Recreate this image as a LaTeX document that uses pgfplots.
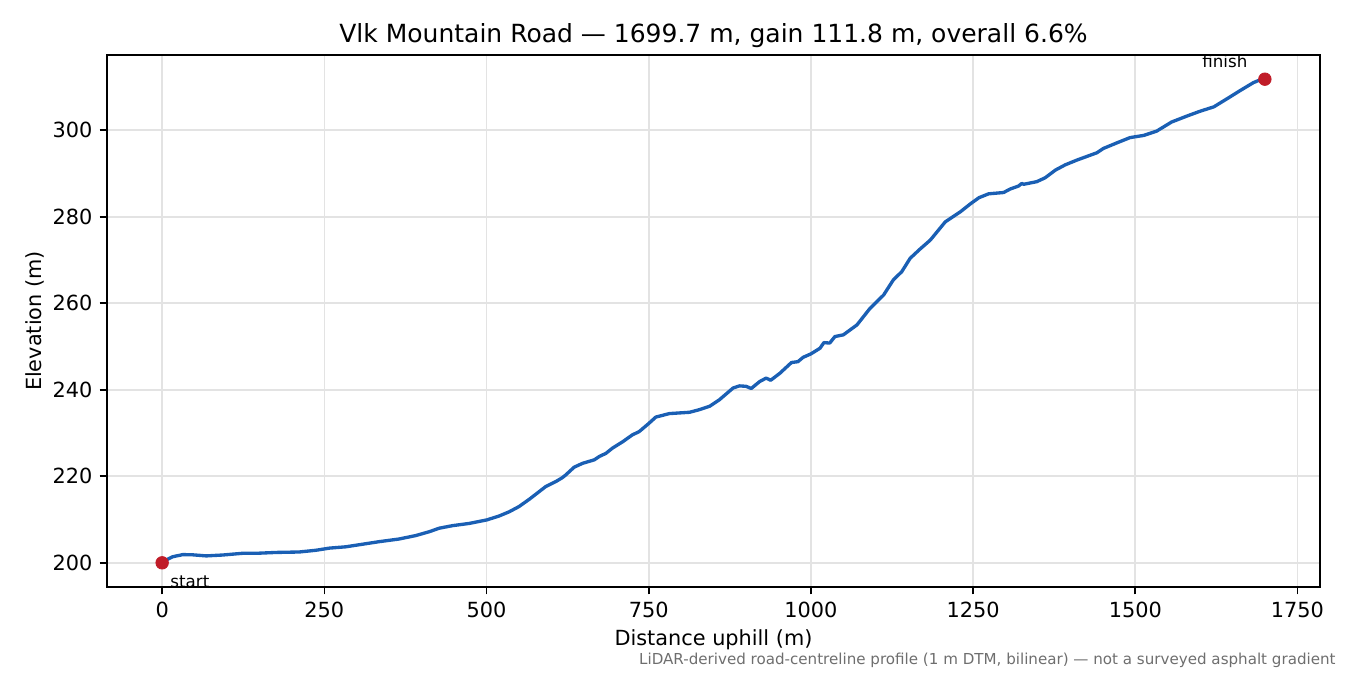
\documentclass[border=0pt]{standalone}
\usepackage{fontspec}
\setmainfont{DejaVu Sans}
\usepackage{pgfplots}
\pgfplotsset{compat=1.18}
\definecolor{lineblue}{HTML}{1A5FB4}
\definecolor{dotred}{HTML}{C01C28}
\definecolor{gridgray}{HTML}{E3E3E3}
\definecolor{notegray}{HTML}{6E6E6E}

\begin{document}
\begin{tikzpicture}
\begin{axis}[
    at={(0,0)}, anchor=south west,
    scale only axis, width=582.24pt, height=255.36pt,
    xmin=-85, xmax=1784.7, ymin=194.41, ymax=317.39,
    xtick={0,250,...,1750}, ytick={200,220,...,300},
    tick pos=left, tick align=outside, major tick length=3.5pt,
    every tick/.style={black, line width=0.8pt},
    axis line style={line width=0.8pt},
    grid=major, major grid style={gridgray, line width=0.8pt},
    /pgf/number format/1000 sep={},
    /pgf/number format/assume math mode=true,
    tick label style={font=\fontsize{10}{12}\selectfont},
    title={Vlk Mountain Road — 1699.7 m, gain 111.8 m, overall 6.6\%},
    title style={at={(axis description cs:0.5,1)}, anchor=center, yshift=3.3pt, font=\fontsize{12}{14}\selectfont},
    xlabel={Distance uphill (m)},
    xlabel style={at={(axis description cs:0.5,0)}, anchor=center, yshift=-25.4pt, font=\fontsize{10}{12}\selectfont},
    ylabel={Elevation (m)},
    ylabel style={at={(axis description cs:0,0.5)}, anchor=center, rotate=0, yshift=34.6pt, font=\fontsize{10}{12}\selectfont},
    clip=false,
]
\addplot[lineblue, line width=1.6pt, line join=round] coordinates {
(0,200) (8,200.8) (16,201.4) (32,201.9) (47,201.85) (68,201.6) (93,201.8)
(124,202.2) (145,202.2) (176,202.4) (211,202.5) (237,202.9) (258,203.4)
(283,203.7) (309,204.3) (335,204.9) (365,205.5) (391,206.3) (412,207.2)
(427,208) (448,208.6) (473,209.1) (500,209.9) (519,210.8) (535,211.8)
(550,213) (566,214.7) (591,217.6) (607,218.8) (617,219.7) (622,220.3)
(635,222.1) (648,223) (666,223.8) (674,224.6) (684,225.3) (694,226.5)
(710,228) (725,229.6) (735,230.3) (750,232.2) (761,233.7) (782,234.5)
(813,234.8) (828,235.4) (844,236.2) (859,237.7) (880,240.4) (890,240.9)
(900,240.8) (908,240.3) (921,241.9) (931,242.7) (938,242.2) (952,243.8)
(970,246.3) (980,246.5) (988,247.5) (1000,248.3) (1014,249.6) (1020,250.9)
(1029,250.8) (1037,252.3) (1050,252.7) (1071,255) (1091,258.8) (1112,261.9)
(1127,265.4) (1140,267.3) (1153,270.4) (1168,272.5) (1184,274.6) (1207,278.8)
(1230,281.1) (1246,283) (1259,284.4) (1274,285.3) (1297,285.6) (1307,286.4)
(1320,287.1) (1325,287.7) (1328,287.5) (1348,288.1) (1361,289) (1377,290.8)
(1392,292) (1410,293.1) (1441,294.8) (1451,295.8) (1472,297.1) (1492,298.3)
(1513,298.8) (1533,299.8) (1556,301.9) (1580,303.3) (1600,304.4) (1621,305.4)
(1646,307.7) (1662,309.2) (1682,311) (1690,311.5) (1699.7,311.8)
};
\addplot[only marks, mark=*, mark size=3pt, dotred, mark options={draw=dotred, fill=dotred}]
    coordinates {(0,200) (1699.7,311.8)};
\node[anchor=west, font=\fontsize{8}{9}\selectfont, inner sep=0pt] at ([xshift=3.8pt, yshift=-9.1pt]axis cs:0,200) {start};
\node[anchor=east, font=\fontsize{8}{9}\selectfont, inner sep=0pt] at ([xshift=-8.2pt, yshift=8.6pt]axis cs:1699.7,311.8) {finish};
\end{axis}
\node[anchor=base east, font=\fontsize{7.25}{8}\selectfont, text=notegray, inner sep=0pt] at (589.9pt,-37.4pt)
    {LiDAR-derived road-centreline profile (1 m DTM, bilinear) — not a surveyed asphalt gradient};
\pgfresetboundingbox
\path (-51.36pt,-42.24pt) rectangle (596.64pt,281.76pt);
\end{tikzpicture}
\end{document}
